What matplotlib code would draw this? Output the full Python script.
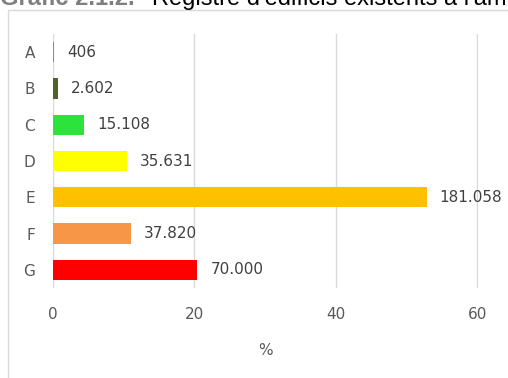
import matplotlib.pyplot as plt
from matplotlib.patches import Rectangle

categories = ['A', 'B', 'C', 'D', 'E', 'F', 'G']
counts = [406, 2602, 15108, 35631, 181058, 37820, 70000]
colors = ['#5B9BD5', '#4F6228', '#2BE33B', '#FFFF00', '#FFC000', '#F79646', '#FF0000']

total = sum(counts)
pct = [c / total * 100 for c in counts]

fig = plt.figure(figsize=(5.08, 3.78), dpi=100)
W, H = 508, 378

# chart frame
fig.patches.append(Rectangle((8 / W, -0.1), 1.2, 1.1 - 10 / H,
                             transform=fig.transFigure, fill=False,
                             edgecolor='#d9d9d9', lw=1))

ax = fig.add_axes([53 / W, 1 - 288 / H, (478 - 53) / W, 254 / H])
y = list(range(len(categories)))
ax.barh(y, pct, color=colors, height=0.56)
ax.set_ylim(6.5, -0.5)
ax.set_xlim(0, 60.1)
ax.set_xticks([0, 20, 40, 60])
ax.set_yticks(y)
ax.set_yticklabels(categories)
ax.grid(axis='x', color='#d9d9d9', lw=1)
ax.set_axisbelow(True)
for s in ax.spines.values():
    s.set_visible(False)
ax.tick_params(length=0, colors='#595959', labelsize=11)
ax.tick_params(axis='x', pad=14)
ax.tick_params(axis='y', pad=13)
ax.set_xlabel('%', color='#595959', fontsize=11, labelpad=15)

for yi, p, c in zip(y, pct, counts):
    ax.annotate(f'{c:,}'.replace(',', '.'), (p, yi), xytext=(13, 0),
                textcoords='offset pixels', va='center', ha='left',
                color='#404040', fontsize=11, annotation_clip=False)

fig.text(0, 1 - 5 / H, 'Gràfic 2.1.2.', fontsize=17, fontweight='bold',
         family='Liberation Sans', color='#7f7f7f', va='baseline')
fig.text(152 / W, 1 - 5 / H, "Registre d'edificis existents a l'àmbit",
         fontsize=17, family='Liberation Sans', color='#000000', va='baseline')

fig.savefig('out.png', dpi=100)
